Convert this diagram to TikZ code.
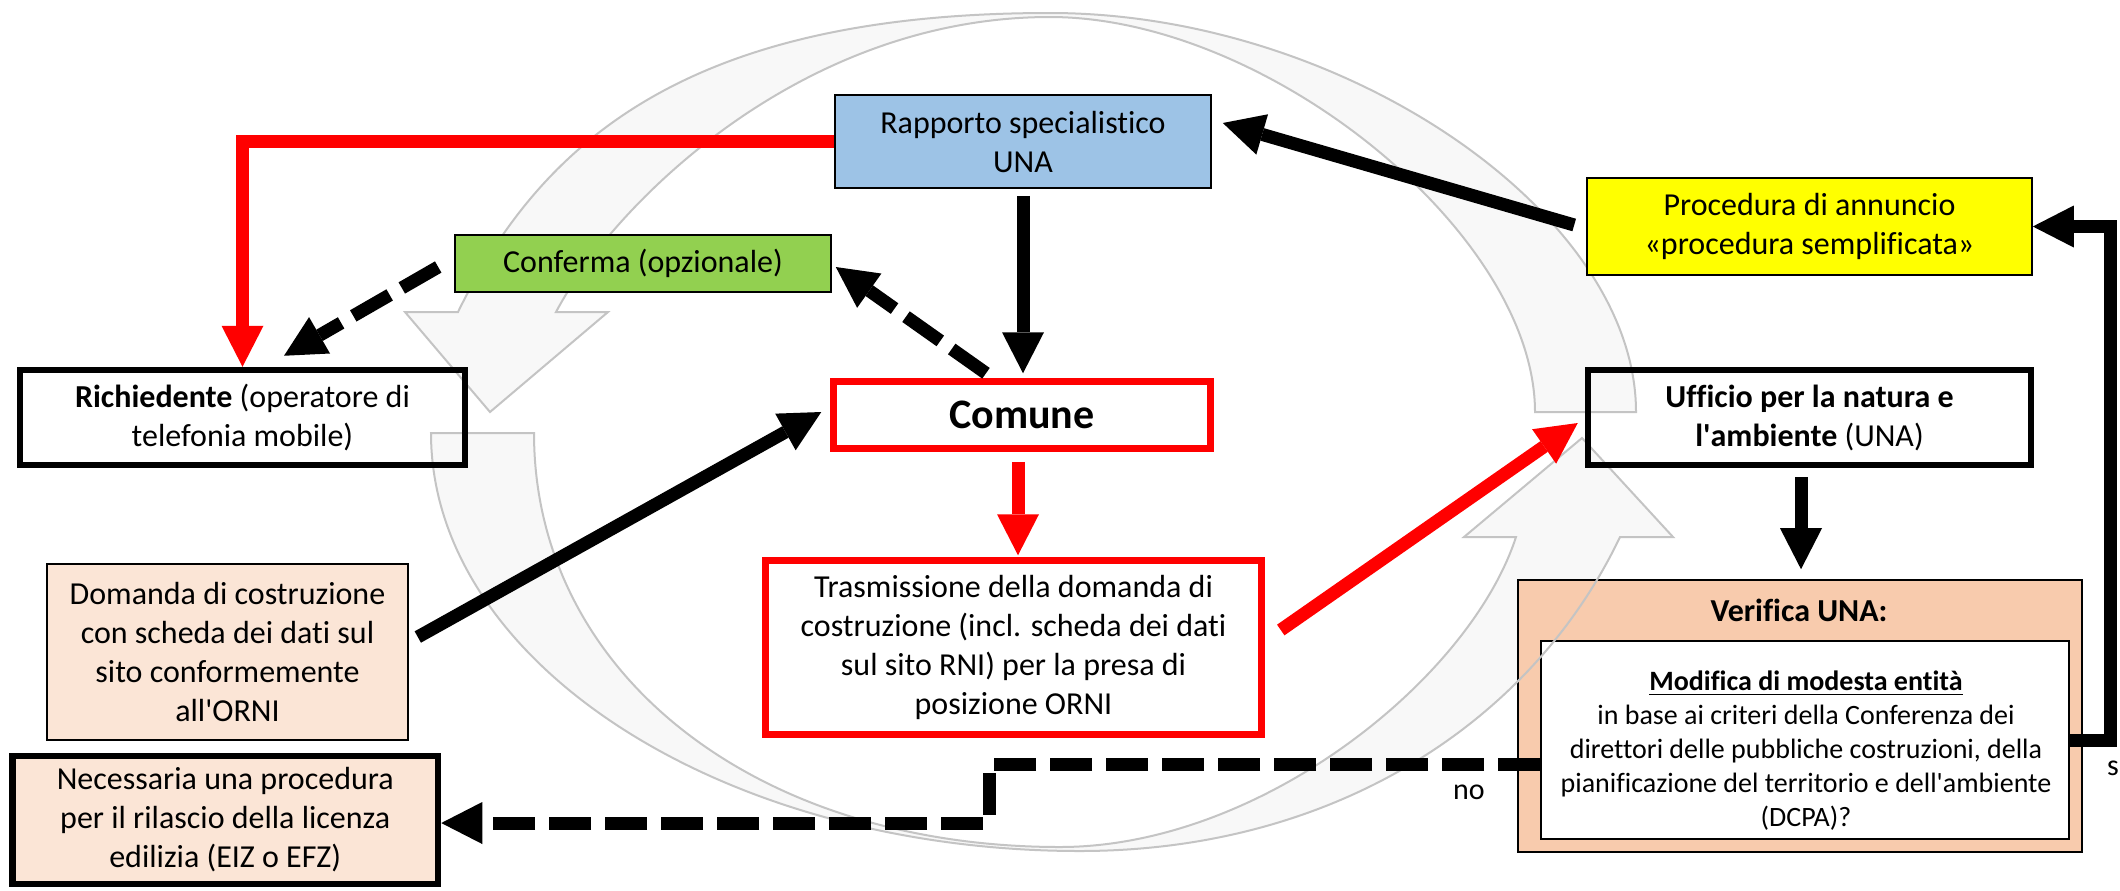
\documentclass[tikz,border=0pt]{standalone}
\usepackage{fontspec}
\setmainfont{Carlito}[Ligatures=NoCommon]
\usetikzlibrary{arrows.meta,calc}
\definecolor{rnired}{HTML}{FF0000}
\definecolor{bluebox}{HTML}{9DC3E6}
\definecolor{greenbox}{HTML}{92D050}
\definecolor{yellowbox}{HTML}{FFFF00}
\definecolor{peachlight}{HTML}{FBE5D6}
\definecolor{peach}{HTML}{F8CBAD}
\definecolor{ringline}{HTML}{C4C4C4}
\definecolor{ringfill}{HTML}{F8F8F8}
\newcommand{\ap}{\textquotesingle}
\begin{document}
\begin{tikzpicture}[x=0.5pt,y=-0.5pt,
  box/.style={rectangle, inner sep=0pt},
  thinbox/.style={box, draw=black, line width=0.8pt},
  thickbox/.style={box, draw=black, line width=3.25pt},
  redbox/.style={box, draw=rnired, line width=3.25pt, fill=white},
  txt/.style={font=\fontsize{16}{19.5}\selectfont, align=center},
  blackarrow/.style={draw=black, line width=6.5pt, line join=miter, -{Triangle[length=20.5pt,width=21pt,line width=0pt]}},
  redarrow/.style={draw=rnired, line width=6.5pt, line join=miter, -{Triangle[length=20.5pt,width=21pt,line width=0pt]}},
  dasharrow/.style={blackarrow, dash pattern=on 21pt off 7pt},
  ringedge/.style={draw=ringline, line width=1pt, line join=miter},
  lbl/.style={font=\fontsize{15}{18}\selectfont}
]
\fill[white] (0,0) rectangle (2120,890);
\useasboundingbox (0,0) rectangle (2120,890);

% background ring of two curved arrows (shapes saved, filled first)
\path[save path=\ringUp] (1535,412) -- (1636,412)
  .. controls (1636,212.5) and (1343,13) .. (1050,13)
  .. controls (700,13) and (546,132) .. (458,312)
  -- (405,312) -- (490,412) -- (608,312) -- (556,312)
  .. controls (612,206) and (800,17) .. (1050,17)
  .. controls (1268,17) and (1535,234) .. (1535,412)
  -- cycle;
\path[save path=\ringLow] (431,433) -- (534,433)
  .. controls (534,673) and (755,847) .. (1060,847)
  .. controls (1260,847) and (1469.5,679.5) .. (1516,537)
  -- (1464,537) -- (1582,438) -- (1673,537) -- (1620,537)
  .. controls (1529.7,726) and (1330,851) .. (1080,851)
  .. controls (723,851) and (431,663) .. (431,433)
  -- cycle;
\path[use path=\ringUp, fill=ringfill];
\path[use path=\ringLow, fill=ringfill];

% Verifica boxes
\node[thinbox, fill=peach, minimum width=282pt, minimum height=136pt] (ver) at (1800,716) {};
\node[thinbox, fill=white, minimum width=264pt, minimum height=99pt] (inn) at (1805,740) {};

% ring outlines
\path[use path=\ringUp, ringedge];
\path[use path=\ringLow, ringedge];

% boxes
\node[thinbox, fill=bluebox, minimum width=188pt, minimum height=46.5pt, txt] (rap) at (1023,141.5) {Rapporto specialistico\\UNA};
\node[thinbox, fill=greenbox, minimum width=188pt, minimum height=28.5pt, txt] (conf) at (643,263.5) {Conferma (opzionale)};
\node[thinbox, fill=yellowbox, minimum width=222.5pt, minimum height=48.5pt, txt] (pro) at (1809.5,226.5) {Procedura di annuncio\\«procedura semplificata»};
\node[thickbox, minimum width=222.5pt, minimum height=47.5pt, txt] (rich) at (242.5,417.5) {\textbf{Richiedente} (operatore di\\telefonia mobile)};
\node[redbox, minimum width=188.5pt, minimum height=33.5pt, font=\fontsize{21}{25}\selectfont\bfseries] (com) at (1022,415) {Comune};
\node[thickbox, minimum width=221.5pt, minimum height=47.5pt, txt] (uff) at (1809.5,417.5) {\textbf{Ufficio per la natura e}\\\textbf{l\ap ambiente} (UNA)};
\node[thinbox, fill=peachlight, minimum width=180.5pt, minimum height=88pt, txt] (dom) at (227.5,652) {Domanda di costruzione\\con scheda dei dati sul\\sito conformemente\\all\ap ORNI};
\node[redbox, minimum width=248pt, minimum height=87pt, txt] (tra) at (1013.5,647.5) {Trasmissione della domanda di\\costruzione (incl. scheda dei dati\\sul sito RNI) per la presa di\\posizione ORNI};
\node[thickbox, fill=peachlight, minimum width=212.75pt, minimum height=64pt, txt] (nec) at (225.25,820) {Necessaria una procedura\\per il rilascio della licenza\\edilizia (EIZ o EFZ)};
\node[font=\fontsize{16}{19.5}\selectfont\bfseries] (vertitle) at (1799,610) {Verifica UNA:};
\node[align=center, font=\fontsize{14}{17}\selectfont] (inntext) at (1806,751) {\underline{\textbf{Modifica di modesta entità}}\\in base ai criteri della Conferenza dei\\direttori delle pubbliche costruzioni, della\\pianificazione del territorio e dell\ap ambiente\\(DCPA)?};

% connectors
\draw[redarrow] (rap.west) -| (rich.north);
\draw[blackarrow, shorten <=3.5pt, shorten >=2.5pt] (rap.south) -- (rap.south |- com.north);
\draw[dasharrow] ($(com.north)+(-36,-5)$) -- ($(conf.east)+(4,3.5)$);
\draw[dasharrow] ($(conf.west)+(-16,3.5)$) -- ($(rich.north)+(41.5,-11)$);
\draw[blackarrow] ($(dom.east)+(9,-15)$) -- ($(com.west)+(-9,-3)$);
\coordinate (c6) at ($(com.south)+(-4,10)$);
\draw[redarrow, shorten >=1pt] (c6) -- (c6 |- tra.north);
\draw[redarrow] ($(tra.east)+(16,-17.5)$) -- ($(uff.west)+(-7,5.5)$);
\coordinate (c8) at ($(ver.north)+(1,-10)$);
\draw[blackarrow, shorten <=4.5pt] (c8 |- uff.south) -- (c8);
\draw[blackarrow] ($(pro.west)+(-12,-1.5)$) -- ($(rap.east)+(11,-18.5)$);
\draw[blackarrow] (inn.east) -- ++(41,0) |- (pro.east);
\coordinate (n1) at ($(nec.east)+(0,3)$);
\draw[dasharrow] ($(inn.west)+(0,24)$) -- ++(-551,0) |- (n1);

% labels
\node[lbl] (no) at (1469,792) {no};
\node[lbl] (si) at (2113,768) {s};
\end{tikzpicture}
\end{document}
